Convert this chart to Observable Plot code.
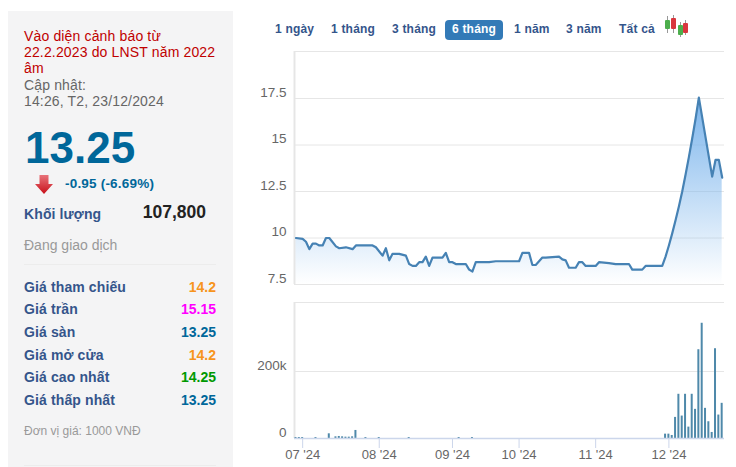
<!DOCTYPE html>
<html lang="vi">
<head>
<meta charset="utf-8">
<script src="https://cdn.jsdelivr.net/npm/d3@7"></script>
<script src="https://cdn.jsdelivr.net/npm/@observablehq/plot@0.6"></script>
<style>
html,body{margin:0;padding:0;background:#fff;width:736px;height:467px;overflow:hidden;font-family:"Liberation Sans",Arial,sans-serif}
.a{position:absolute;white-space:nowrap}
#panel{position:absolute;left:8px;top:11px;width:225px;height:456px;background:#f4f4f5}
.warn{left:24px;color:#c00000;font-size:14px;line-height:16px;letter-spacing:.15px}
.grey{left:24px;color:#666;font-size:14px;line-height:16px;letter-spacing:.15px}
.lab{left:24px;font-weight:bold;font-size:14px;color:#34558b;letter-spacing:.12px;line-height:16px}
.val{right:520px;font-weight:bold;font-size:14px;line-height:16px}
.btn{top:22px;font-weight:bold;font-size:12px;line-height:14px;color:#34558b;letter-spacing:.2px}
.cw,.cb{position:absolute}
#c1,#c2{position:absolute;left:250px}
</style>
</head>
<body>
<div id="panel"></div>
<div class="a warn" style="top:28px">Vào diện cảnh báo từ</div>
<div class="a warn" style="top:44px">22.2.2023 do LNST năm 2022</div>
<div class="a warn" style="top:60px">âm</div>
<div class="a grey" style="top:77px">Cập nhật:</div>
<div class="a grey" style="top:93px">14:26, T2, 23/12/2024</div>
<div class="a" style="left:25px;top:123px;font-size:44px;line-height:50px;font-weight:bold;color:#00679a">13.25</div>
<div class="a" id="arrow" style="left:35px;top:175px;width:18px;height:19px;background:linear-gradient(#e8737a,#c8101a);clip-path:polygon(25% 0,75% 0,75% 48%,100% 48%,50% 100%,0 48%,25% 48%)"></div>
<div class="a" style="left:65px;top:176px;font-size:13.5px;line-height:16px;font-weight:bold;color:#00679a;letter-spacing:.2px">-0.95 (-6.69%)</div>
<div class="a lab" style="top:206px">Khối lượng</div>
<div class="a" style="right:530px;top:202px;font-size:17.5px;line-height:20px;font-weight:bold;color:#222">107,800</div>
<div class="a" style="left:24px;top:237px;font-size:14px;line-height:16px;color:#999">Đang giao dịch</div>
<div class="a" style="left:24px;top:264px;width:192px;height:1px;background:#ececec"></div>
<div class="a lab" style="top:279px">Giá tham chiếu</div><div class="a val" style="top:279px;color:#f7941d">14.2</div>
<div class="a lab" style="top:301px">Giá trần</div><div class="a val" style="top:301px;color:#f0f">15.15</div>
<div class="a lab" style="top:324px">Giá sàn</div><div class="a val" style="top:324px;color:#00679a">13.25</div>
<div class="a lab" style="top:347px">Giá mở cửa</div><div class="a val" style="top:347px;color:#f7941d">14.2</div>
<div class="a lab" style="top:369px">Giá cao nhất</div><div class="a val" style="top:369px;color:#090">14.25</div>
<div class="a lab" style="top:392px">Giá thấp nhất</div><div class="a val" style="top:392px;color:#00679a">13.25</div>
<div class="a" style="left:24px;top:424px;font-size:12px;line-height:14px;color:#999">Đơn vị giá: 1000 VNĐ</div>
<div class="a" style="left:24px;top:465px;width:192px;height:1px;background:#ececec"></div>

<div class="a btn" style="left:275px">1 ngày</div>
<div class="a btn" style="left:331px">1 tháng</div>
<div class="a btn" style="left:392px">3 tháng</div>
<div class="a" style="left:445px;top:20px;width:58px;height:20px;background:#337ab7;border-radius:4px"></div>
<div class="a btn" style="left:452px;color:#fff">6 tháng</div>
<div class="a btn" style="left:514px">1 năm</div>
<div class="a btn" style="left:566px">3 năm</div>
<div class="a btn" style="left:619px">Tất cả</div>
<div class="a" id="candles" style="left:664px;top:15px;width:26px;height:23px">
  <div class="cw" style="left:3px;top:1px;width:1px;height:17px;background:#999"></div><div class="cb" style="left:1px;top:5px;width:5px;height:9px;background:#4cae4c;border-radius:1px"></div>
  <div class="cw" style="left:9px;top:0;width:1px;height:18px;background:#999"></div><div class="cb" style="left:7px;top:3px;width:5px;height:11px;background:#d9363e;border-radius:1px"></div>
  <div class="cw" style="left:16px;top:7px;width:1px;height:15px;background:#999"></div><div class="cb" style="left:14px;top:10px;width:5px;height:10px;background:#4cae4c;border-radius:1px"></div>
  <div class="cw" style="left:21px;top:5px;width:1px;height:15px;background:#999"></div><div class="cb" style="left:19px;top:8px;width:5px;height:10px;background:#d9363e;border-radius:1px"></div>
</div>

<div id="c1" style="top:45px"></div>
<div id="c2" style="top:296px"></div>

<script>
// Price line: trading-day index and price read at each vertex
const priceDay = [0,2,3,4,5,6,7,8,9,10,12,13,15,17,18,23,24,26,27,28,29,31,33,34,35,36,37,38,39,40,41,44,45,46,47,48,51,52,53,54,58,60,67,68,70,71,72,74,75,79,80,81,82,84,85,86,87,90,91,94,96,100,101,104,105,110,111,112,113,114,115,116,117,118,119,120,121,125,126,127,128];
const priceVal = [10,9.95,9.8,9.4,9.7,9.7,9.6,9.6,10,10,9.55,9.45,9.5,9.4,9.6,9.6,9.5,9.05,9.45,8.8,9.15,9.15,9.05,8.6,8.5,8.5,8.7,8.7,9,8.5,8.95,8.95,9.2,8.7,8.7,8.6,8.6,8.3,8.2,8.7,8.7,8.75,8.75,9.2,9.2,8.55,8.55,8.95,8.95,9,8.85,8.8,8.4,8.4,8.7,8.7,8.5,8.5,8.7,8.65,8.6,8.6,8.3,8.3,8.5,8.5,9,9.6,10.25,10.95,11.7,12.5,13.4,14.35,15.35,16.4,17.55,13.3,14.2,14.2,13.25];
// Volume bars: trading-day index and shares
const volDay = [0,1,2,6,10,12,13,14,15,16,17,18,21,25,34,49,53,111,112,113,114,115,116,117,118,119,120,121,122,123,124,125,126,127,128];
const volVal = [3000,3000,3000,3000,14000,5000,6000,5000,4000,4000,5000,24000,3000,3000,3000,3000,3000,13000,13000,9000,63000,132000,67000,132000,34000,132000,87000,265000,344000,90000,50000,18000,268000,70000,105000];
// Axis ticks
const monthDay = [2,25,47,67,90,112];
const monthLabel = ["07 '24","08 '24","09 '24","10 '24","11 '24","12 '24"];
const priceTicks = [7.5,10,12.5,15,17.5];
const volTicks = [0,200000];

const price = priceDay.map((d,i)=>({d,v:priceVal[i]}));
const vol = volDay.map((d,i)=>({d,v:volVal[i]}));
const xDomain = [-0.45,128.7];
const grid = "#e6e6e6", axisC = "#ccd6eb", txt = "#666";
const font = '"Liberation Sans",Arial,sans-serif';

const gradient = () => {
  const ns = "http://www.w3.org/2000/svg";
  const defs = document.createElementNS(ns,"defs");
  defs.innerHTML = '<linearGradient id="areaG" x1="0" y1="0" x2="0" y2="1"><stop offset="0" stop-color="#7cb5ec"/><stop offset="1" stop-color="#7cb5ec" stop-opacity="0"/></linearGradient>';
  return defs;
};

const top1 = Plot.plot({
  width:486, height:245, marginLeft:44, marginRight:12, marginTop:6, marginBottom:6,
  style:{background:"transparent",fontFamily:font,fontSize:"12px",color:txt,overflow:"visible"},
  x:{domain:xDomain,axis:null},
  y:{domain:[7.5,20.03],label:null},
  marks:[
    gradient,
    Plot.ruleY(priceTicks,{stroke:grid,strokeOpacity:1}),
    Plot.ruleY([20.03],{stroke:grid}),
    Plot.ruleX([xDomain[0]],{stroke:grid,strokeWidth:2}),
    Plot.areaY(price,{x:"d",y1:7.5,y2:"v",fill:"url(#areaG)"}),
    Plot.lineY(price,{x:"d",y:"v",stroke:"#4682b4",strokeWidth:2.2,curve:"linear"}),
    Plot.axisY({ticks:priceTicks,tickSize:0,tickPadding:7,dy:-6,dx:-1,label:null,fill:txt,tickFormat:d=>String(d),fontSize:13.5})
  ]
});
document.getElementById("c1").append(top1);

const top2 = Plot.plot({
  width:486, height:171, marginLeft:44, marginRight:12, marginTop:6, marginBottom:29,
  style:{background:"transparent",fontFamily:font,fontSize:"12px",color:txt,overflow:"visible"},
  x:{domain:xDomain,axis:null},
  y:{domain:[0,406000],label:null},
  marks:[
    Plot.ruleY([200000],{stroke:grid}),
    Plot.ruleY([406000],{stroke:grid}),
    Plot.ruleX([xDomain[0]],{stroke:grid,strokeWidth:2}),
    Plot.rectY(vol,{x1:d=>d.d-0.3,x2:d=>d.d+0.3,y1:0,y2:"v",fill:"#4f89aa"}),
    Plot.ruleY([0],{stroke:axisC,strokeWidth:1.5}),
    Plot.axisY({ticks:volTicks,tickSize:0,tickPadding:7,dy:-6,dx:-1,label:null,fill:txt,fontSize:13.5,tickFormat:d=>d?d/1000+"k":"0"}),
    Plot.axisX({ticks:monthDay,tickSize:10,tickPadding:1,stroke:axisC,label:null,fill:txt,fontSize:13,tickFormat:d=>monthLabel[monthDay.indexOf(d)]})
  ]
});
document.getElementById("c2").append(top2);
</script>
</body>
</html>
